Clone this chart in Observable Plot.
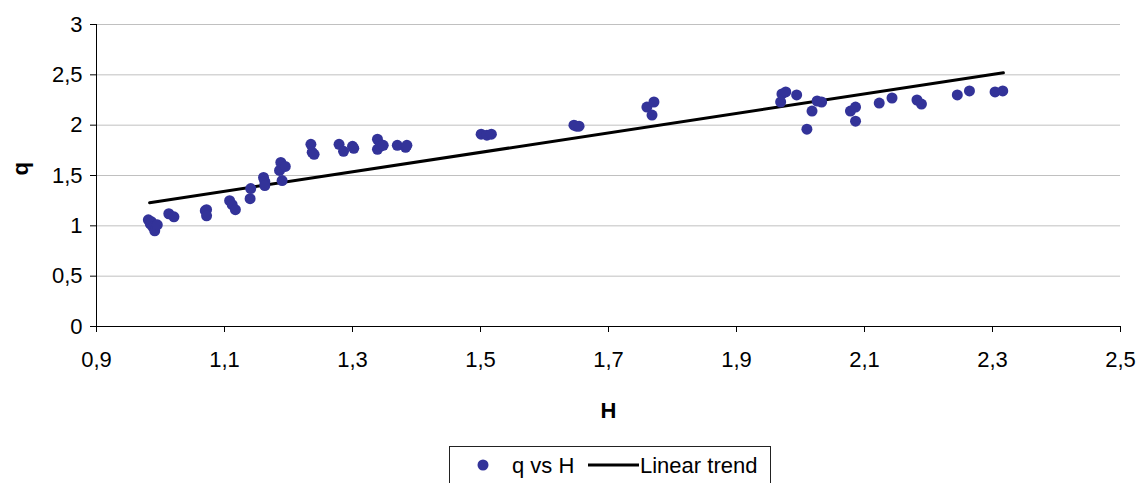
<!DOCTYPE html>
<html>
<head>
<meta charset="utf-8">
<script src="https://cdn.jsdelivr.net/npm/d3@7"></script>
<script src="https://cdn.jsdelivr.net/npm/@observablehq/plot@0.6"></script>
<style>
  html, body { margin: 0; padding: 0; background: #fff; }
  #wrap { position: relative; width: 1137px; height: 483px; overflow: hidden; font-family: "Liberation Sans", Arial, sans-serif; }
  #legend { position: absolute; left: 449px; top: 446px; width: 322px; height: 50px; border: 1px solid #222; box-sizing: border-box; }
</style>
</head>
<body>
<div id="wrap"></div>
<script>
const H = [0.981,0.984,0.986,0.988,0.991,0.995,1.013,1.021,1.070,1.072,1.072,1.108,1.112,1.117,1.140,1.141,1.161,1.163,1.163,1.186,1.188,1.195,1.190,1.235,1.237,1.240,1.279,1.286,1.300,1.302,1.339,1.339,1.343,1.348,1.370,1.383,1.385,1.501,1.510,1.517,1.646,1.650,1.654,1.760,1.771,1.768,1.969,1.971,1.977,1.994,2.010,2.018,2.026,2.033,2.078,2.086,2.086,2.123,2.143,2.182,2.189,2.245,2.264,2.304,2.316];
const Q = [1.06,1.02,1.04,0.99,0.95,1.01,1.12,1.09,1.15,1.16,1.10,1.25,1.21,1.16,1.27,1.37,1.48,1.44,1.40,1.55,1.63,1.59,1.45,1.81,1.73,1.71,1.81,1.74,1.79,1.77,1.86,1.76,1.79,1.80,1.80,1.78,1.80,1.91,1.90,1.91,2.00,1.99,1.99,2.18,2.23,2.10,2.23,2.31,2.33,2.30,1.96,2.14,2.24,2.23,2.14,2.18,2.04,2.22,2.27,2.25,2.21,2.30,2.34,2.33,2.34];
const trendH = [0.983, 2.317];
const trendQ = [1.23, 2.52];
const xTicks = [0.9, 1.1, 1.3, 1.5, 1.7, 1.9, 2.1, 2.3, 2.5];
const yTicks = [0, 0.5, 1, 1.5, 2, 2.5, 3];
const xLabel = "H";
const yLabel = "q";
const seriesName = "q vs H";
const trendName = "Linear trend";

const pts = H.map((h, i) => ({h, q: Q[i]}));
const trend = trendH.map((h, i) => ({h, q: trendQ[i]}));
const fmt = d => String(d).replace(".", ",");
const FS = 22;

const chart = Plot.plot({
  width: 1137,
  height: 446,
  marginLeft: 96,
  marginRight: 17,
  marginTop: 24,
  marginBottom: 120,
  style: { fontFamily: "'Liberation Sans', Arial, sans-serif", fontSize: FS + "px", background: "#fff", color: "#000" },
  x: { domain: [0.9, 2.5], ticks: xTicks, tickFormat: fmt, label: null },
  y: { domain: [0, 3], ticks: yTicks, tickFormat: fmt, label: null },
  marks: [
    Plot.gridY(yTicks, { stroke: "#c0c0c0", strokeOpacity: 1 }),
    Plot.ruleX([0.9], { stroke: "#000" }),
    Plot.ruleY([0], { stroke: "#000" }),
    Plot.axisX({ ticks: xTicks, tickFormat: fmt, tickSize: 6, tickPadding: 19, label: null, stroke: "#000", fontSize: FS }),
    Plot.axisY({ ticks: yTicks, tickFormat: fmt, tickSize: 6, tickPadding: 8, label: null, stroke: "#000", fontSize: FS }),
    Plot.line(trend, { x: "h", y: "q", stroke: "#000", strokeWidth: 3 }),
    Plot.dot(pts, { x: "h", y: "q", r: 5.5, fill: "#333399", stroke: "none" }),
    Plot.text([xLabel], { frameAnchor: "bottom", dy: 91, fontWeight: "bold", fontSize: FS }),
    Plot.text([yLabel], { frameAnchor: "left", dx: -76, rotate: -90, fontWeight: "bold", fontSize: FS })
  ]
});
const wrap = document.getElementById("wrap");
wrap.appendChild(chart);

const legend = document.createElement("div");
legend.id = "legend";
legend.innerHTML = `
  <svg width="322" height="50" style="position:absolute;left:0;top:0">
    <circle cx="33" cy="18" r="5.5" fill="#333399"></circle>
    <text x="62" y="26" font-size="${FS}" font-family="'Liberation Sans', Arial, sans-serif">${seriesName}</text>
    <line x1="138" y1="18" x2="189" y2="18" stroke="#000" stroke-width="3"></line>
    <text x="190" y="26" font-size="${FS}" font-family="'Liberation Sans', Arial, sans-serif">${trendName}</text>
  </svg>`;
wrap.appendChild(legend);
</script>
</body>
</html>
